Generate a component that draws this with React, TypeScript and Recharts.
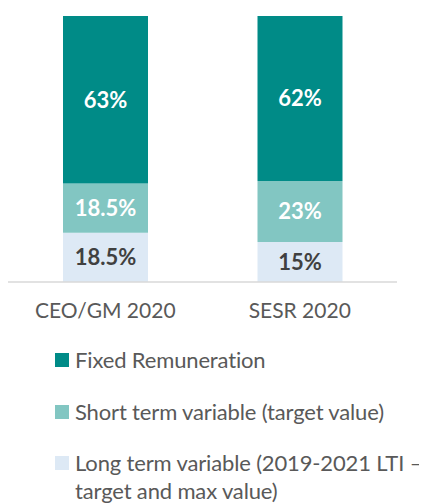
import React from "react";
import { BarChart, Bar, XAxis, YAxis, LabelList, Legend } from "recharts";

const categories = ["CEO/GM 2020", "SESR 2020"];
const fixedRemuneration = [63, 62];
const shortTermVariable = [18.5, 23];
const longTermVariable = [18.5, 15];
const labelsFixed = ["63%", "62%"];
const labelsShort = ["18.5%", "23%"];
const labelsLong = ["18.5%", "15%"];
const seriesNames = [
  "Fixed Remuneration",
  "Short term variable (target value)",
  "Long term variable (2019-2021 LTI – target and max value)",
];
const seriesColors = ["#008B87", "#82C6C2", "#DDE9F5"];

const data = categories.map((c, i) => ({
  name: c,
  fixed: fixedRemuneration[i],
  short: shortTermVariable[i],
  long: longTermVariable[i],
  lf: labelsFixed[i],
  ls: labelsShort[i],
  ll: labelsLong[i],
}));

const FONT = "Lato, 'Open Sans', sans-serif";

const LegendContent = () => (
  <div style={{ fontFamily: FONT, fontSize: 22, color: "#595959", width: 372, letterSpacing: "-0.15px" }}>
    {seriesNames.map((n, i) => (
      <div
        key={n}
        style={{ display: "flex", alignItems: "flex-start", lineHeight: "28px", marginBottom: 23.7 }}
      >
        <span
          style={{
            display: "inline-block",
            width: 14,
            height: 14,
            minWidth: 14,
            background: seriesColors[i],
            marginTop: 7,
            marginRight: 6,
          }}
        />
        <span style={{ flex: 1 }}>{n}</span>
      </div>
    ))}
  </div>
);

export default function App() {
  return (
    <BarChart
      width={419}
      height={496}
      data={data}
      margin={{ top: 8, right: 30, left: 0, bottom: 182 }}
    >
      <XAxis
        dataKey="name"
        height={40}
        axisLine={{ stroke: "#D9D9D9", strokeWidth: 1.5 }}
        tickLine={false}
        tickMargin={15}
        tick={{ fill: "#595959", fontSize: 21, fontFamily: FONT }}
        interval={0}
      />
      <YAxis hide domain={[0, 100]} />
      <Bar dataKey="long" stackId="a" fill={seriesColors[2]} barSize={85} isAnimationActive={false}>
        <LabelList dataKey="ll" position="center" fill="#404040" fontSize={22} fontWeight={700} fontFamily={FONT} />
      </Bar>
      <Bar dataKey="short" stackId="a" fill={seriesColors[1]} barSize={85} isAnimationActive={false}>
        <LabelList dataKey="ls" position="center" fill="#FFFFFF" fontSize={22} fontWeight={700} fontFamily={FONT} />
      </Bar>
      <Bar dataKey="fixed" stackId="a" fill={seriesColors[0]} barSize={85} isAnimationActive={false}>
        <LabelList dataKey="lf" position="center" fill="#FFFFFF" fontSize={22} fontWeight={700} fontFamily={FONT} />
      </Bar>
      <Legend
        layout="vertical"
        align="center"
        verticalAlign="middle"
        wrapperStyle={{ position: "absolute", top: 338, left: 47, width: 372 }}
        content={<LegendContent />}
      />
    </BarChart>
  );
}
